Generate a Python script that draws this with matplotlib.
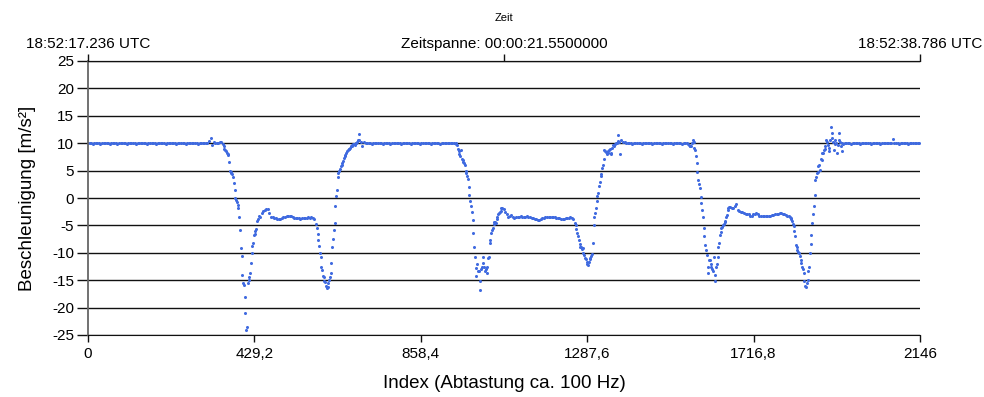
import numpy as np
import matplotlib.pyplot as plt

# sample spacing of the values below (index units)
step = 4

# resting phase 1, index 0..344
rest1_start = 0
rest1 = [10.0, 10.1, 10.0, 9.9, 10.0, 10.1, 10.0, 10.0, 9.9, 10.0,
         10.1, 10.0, 10.0, 10.1, 9.9, 10.0, 10.0, 10.1, 10.0, 9.9,
         10.0, 10.0, 10.1, 10.0, 10.0, 9.9, 10.0, 10.1, 10.0, 10.0,
         10.0, 9.9, 10.0, 10.1, 10.0, 10.0, 10.1, 10.0, 9.9, 10.0,
         10.0, 10.1, 10.0, 10.0, 9.9, 10.0, 10.1, 10.0, 10.0, 10.0,
         9.9, 10.0, 10.1, 10.0, 10.0, 10.1, 10.0, 9.9, 10.0, 10.0,
         10.1, 10.0, 10.0, 9.9, 10.0, 10.1, 10.0, 10.0, 10.1, 10.0,
         10.0, 9.9, 10.0, 10.1, 10.0, 10.0, 10.0, 10.0, 10.4, 10.9,
         9.7, 10.2, 10.1, 10.0, 10.1, 10.2, 10.3]

# movement 1, index 348..716
move1_start = 348
move1 = [9.8, 9.0, 8.5, 8.0, 6.5, 4.8, 4.3, 2.8, 0.0, -0.7,
         -1.9, -5.8, -10.5, -15.5, -18.0, -24.0, -15.5, -14.5, -11.8, -8.8,
         -6.8, -6.0, -4.2, -3.2, -3.5, -2.8, -2.4, -2.1, -2.0, -2.0,
         -2.8, -3.4, -3.5, -3.7, -3.7, -3.8, -3.9, -3.9, -3.7, -3.5,
         -3.4, -3.3, -3.2, -3.3, -3.3, -3.5, -3.6, -3.7, -3.7, -3.7,
         -3.8, -3.7, -3.7, -3.6, -3.6, -3.5, -3.6, -3.5, -3.6, -3.8,
         -4.8, -6.5, -8.8, -10.8, -13.2, -14.5, -15.3, -16.5, -15.6, -14.5,
         -11.8, -7.5, -4.5, 0.3, 3.8, 5.0, 5.8, 6.3, 7.3, 7.8,
         8.5, 8.9, 9.2, 9.4, 9.8, 9.7, 10.0, 10.6, 11.7, 10.3,
         9.5, 10.2, 10.0]
# in-between samples of the steep parts of movement 1
move1a_start = 350
move1a = [9.4, 8.8, 8.2, 7.8, 5.0, 4.6, 3.8, 1.5, -0.3, -1.2,
          -3.4, -9.1, -14.0, -15.8, -21.0, -23.5, -15.0, -13.7, -10.0, -8.2,
          -6.5, -5.7, -3.9]
move1b_start = 590
move1b = [-5.5, -7.7, -10.1, -12.5, -14.3, -15.2, -16.0, -16.2, -15.0, -13.7,
          -9.0, -5.8, -1.5, 1.5, 4.5, 5.3, 6.0, 6.8, 7.6, 8.2,
          8.8, 9.0, 9.5, 9.6, 9.9, 10.1, 10.3, 10.5]

# resting phase 2, index 720..944
rest2_start = 720
rest2 = [10.1, 10.0, 10.0, 9.9, 10.0, 10.1, 10.0, 10.0, 10.1, 10.0,
         9.9, 10.0, 10.0, 10.1, 10.0, 9.9, 10.0, 10.1, 10.0, 10.0,
         10.0, 10.1, 9.9, 10.0, 10.0, 10.1, 10.0, 10.0, 9.9, 10.0,
         10.1, 10.0, 10.0, 10.0, 9.9, 10.0, 10.1, 10.0, 10.0, 10.1,
         10.0, 9.9, 10.0, 10.0, 10.1, 10.0, 10.0, 9.9, 10.0, 10.1,
         10.0, 10.0, 10.1, 10.0, 10.0, 10.0, 10.0]

# movement 2, index 948..1388
move2_start = 948
move2 = [10.0, 9.7, 8.5, 7.6, 7.2, 6.6, 6.0, 4.6, 3.5, 0.5,
         -1.5, -4.0, -8.9, -12.8, -12.0, -13.4, -16.7, -12.5, -11.9, -13.4,
         -13.7, -11.0, -8.3, -6.4, -5.5, -4.3, -4.5, -3.4, -2.8, -2.3,
         -1.9, -2.0, -2.5, -3.0, -3.4, -3.2, -3.1, -3.4, -3.6, -3.5,
         -3.4, -3.4, -3.3, -3.4, -3.5, -3.4, -3.3, -3.4, -3.4, -3.6,
         -3.7, -3.8, -3.9, -4.0, -4.1, -3.9, -3.7, -3.6, -3.5, -3.4,
         -3.4, -3.4, -3.5, -3.5, -3.5, -3.6, -3.7, -3.7, -3.8, -3.8,
         -3.8, -3.7, -3.6, -3.6, -3.5, -3.7, -3.9, -4.6, -5.6, -7.0,
         -8.4, -9.0, -9.1, -10.4, -11.2, -12.0, -11.6, -11.2, -10.3, -5.0,
         -2.8, -0.5, 1.0, 3.0, 4.4, 6.0, 8.8, 8.4, 8.2, 8.7,
         8.0, 9.2, 9.4, 9.8, 10.1, 11.5, 8.0, 10.5, 10.3, 10.2,
         10.0]
move2a_start = 950
move2a = [9.9, 9.0, 8.0, 8.8, 6.9, 6.3, 5.0, 4.0, 2.0, -0.6,
          -2.5, -6.4, -10.7, -14.3, -13.4, -15.2, -13.0, -10.7, -12.5, -13.0,
          -12.5, -10.8, -7.7, -5.8, -4.8, -4.3, -3.8, -3.0, -2.6, -1.9]
move2b_start = 1258
move2b = [-5.0, -6.4, -7.7, -8.9, -9.3, -10.1, -11.0, -11.6, -12.2, -11.0,
          -10.6, -8.3, -3.4, -1.9, 0.3, 2.2, 4.0, 5.5, 7.2, 8.5,
          8.0, 8.5, 8.9, 8.2, 9.7, 9.6, 10.0, 10.4, 10.2]

# resting phase 3, index 1392..1544
rest3_start = 1392
rest3 = [10.0, 10.1, 10.0, 9.9, 10.0, 10.0, 10.1, 10.0, 10.0, 9.9,
         10.0, 10.1, 10.0, 10.0, 10.1, 10.0, 9.9, 10.0, 10.0, 10.1,
         10.0, 10.0, 9.9, 10.0, 10.1, 10.0, 10.0, 10.0, 10.1, 9.9,
         10.0, 10.0, 10.1, 10.0, 10.0, 9.9, 10.0, 10.1, 10.0]

# movement 3, index 1548..1952
move3_start = 1548
move3 = [9.9, 9.5, 9.5, 10.5, 9.2, 7.6, 4.8, 2.5, 0.2, -2.2,
         -5.5, -8.5, -10.4, -12.5, -11.3, -12.5, -13.4, -15.2, -12.5, -10.7,
         -8.3, -6.2, -5.3, -4.7, -4.2, -3.1, -1.9, -1.6, -1.8, -1.9,
         -1.5, -1.1, -2.2, -2.3, -2.5, -2.6, -2.7, -2.9, -2.9, -3.0,
         -3.2, -3.2, -3.0, -2.9, -2.8, -3.0, -3.2, -3.2, -3.3, -3.3,
         -3.3, -3.3, -3.3, -3.2, -3.1, -3.1, -3.0, -2.9, -2.9, -2.8,
         -2.8, -2.9, -3.0, -3.1, -3.2, -3.3, -3.6, -4.2, -5.2, -7.0,
         -9.0, -9.8, -10.5, -11.8, -13.0, -15.2, -16.2, -14.9, -12.5, -8.4,
         -4.5, -1.5, 3.3, 4.5, 5.8, 5.1, 7.0, 8.2, 9.0, 10.6,
         9.7, 8.5, 13.0, 11.8, 8.8, 10.5, 8.2, 11.8, 10.3, 8.5,
         9.9, 10.0]
move3a_start = 1550
move3a = [9.7, 9.4, 10.0, 10.2, 8.8, 6.3, 3.3, 1.8, -1.0, -3.4,
          -7.0, -9.5, -13.7, -11.3, -12.0, -13.0, -10.7, -14.0, -12.0, -9.0,
          -6.7, -5.5, -4.9, -4.3, -3.5, -2.2, -1.7]
move3b_start = 1810
move3b = [-3.4, -3.9, -4.8, -6.0, -8.5, -9.5, -10.1, -11.3, -12.5, -13.7,
          -16.0, -15.5, -13.4, -10.1, -6.7, -3.0, 0.6, 3.9, 4.8, 6.0,
          7.2, 8.2, 8.8, 9.5, 10.3, 9.2, 10.5, 11.0, 10.2, 9.8,
          10.0, 9.6, 10.5, 9.5, 10.0]

# resting phase 4, index 1956..2144
rest4_start = 1956
rest4 = [10.0, 10.1, 10.0, 9.9, 10.0, 10.0, 10.1, 10.0, 10.0, 9.9,
         10.0, 10.1, 10.0, 10.0, 10.1, 10.0, 9.9, 10.0, 10.0, 10.1,
         10.0, 10.0, 9.9, 10.0, 10.1, 10.0, 10.0, 10.0, 10.1, 10.0,
         10.7, 10.0, 10.0, 10.1, 9.9, 10.0, 10.0, 10.1, 10.0, 10.0,
         9.9, 10.0, 10.1, 10.0, 10.0, 10.0, 10.1, 10.0]

segments = [(rest1_start, rest1), (move1_start, move1), (move1a_start, move1a),
            (move1b_start, move1b), (rest2_start, rest2), (move2_start, move2),
            (move2a_start, move2a), (move2b_start, move2b), (rest3_start, rest3),
            (move3_start, move3), (move3a_start, move3a), (move3b_start, move3b),
            (rest4_start, rest4)]

x_ticks = [0, 429.2, 858.4, 1287.6, 1716.8, 2146]
x_ticklabels = ["0", "429,2", "858,4", "1287,6", "1716,8", "2146"]
top_ticks = [0, 1073, 2146]
top_labels = ["18:52:17.236 UTC", "Zeitspanne: 00:00:21.5500000", "18:52:38.786 UTC"]

plt.rcParams["font.family"] = ["Liberation Sans", "DejaVu Sans"]
plt.rcParams["axes.unicode_minus"] = False

fig = plt.figure(figsize=(9.84, 3.97), dpi=100)
ax = fig.add_axes([88 / 984, 1 - 335 / 397, 832 / 984, 274 / 397])

dot_color = "#3f6ae0"
for start, vals in segments:
    idx = start + step * np.arange(len(vals))
    ax.plot(idx, vals, "o", ms=2.2, mec="none", color=dot_color)

ax.set_xlim(0, 2146)
ax.set_ylim(-25, 25)
ax.set_yticks(range(-25, 30, 5))
ax.set_xticks(x_ticks)
ax.set_xticklabels(x_ticklabels)
ax.grid(axis="y", color="#111111", lw=1.0)
ax.set_axisbelow(True)

ax.spines["right"].set_visible(False)
ax.spines["top"].set_color("#111111")
ax.spines["bottom"].set_color("#111111")
ax.spines["left"].set_color("#666666")
ax.spines["left"].set_linewidth(1.3)
ax.tick_params(axis="y", length=8, width=1.0, color="#111111", labelsize=11, pad=2)
ax.tick_params(axis="x", length=5, width=1.0, color="#111111", labelsize=11, pad=4)

ax.set_ylabel("Beschleunigung [m/s²]", fontsize=13.5, labelpad=11.5)
ax.set_xlabel("Index (Abtastung ca. 100 Hz)", fontsize=13.5, labelpad=10)

ax2 = ax.twiny()
ax2.set_xlim(0, 2146)
ax2.set_xticks(top_ticks)
ax2.set_xticklabels(top_labels)
ax2.tick_params(axis="x", length=5, width=1.0, color="#111111", labelsize=11, pad=2)
for side in ["left", "right", "bottom"]:
    ax2.spines[side].set_visible(False)
ax2.spines["top"].set_color("#111111")
ax2.set_xlabel("Zeit", fontsize=8, labelpad=11.5)

fig.savefig("out.png", dpi=100)
